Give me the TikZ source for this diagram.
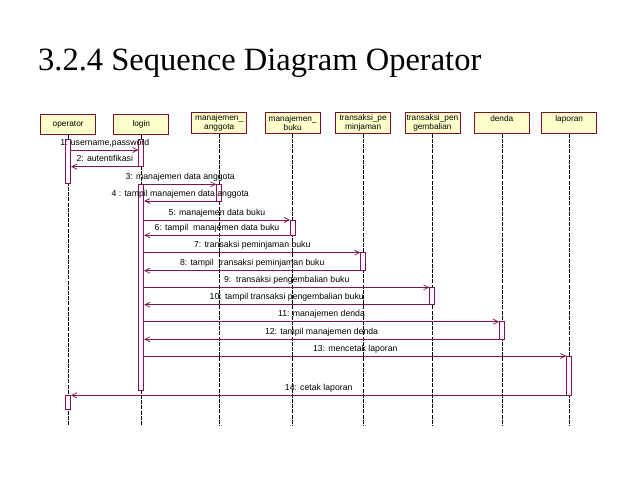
\documentclass[tikz,border=0pt]{standalone}
\usepackage{fontspec}
\setmainfont{Liberation Serif}
\setsansfont{Liberation Sans}
\usetikzlibrary{arrows.meta}
\definecolor{lnc}{RGB}{128,20,76}
\definecolor{boxc}{RGB}{128,16,40}
\definecolor{headfill}{RGB}{255,255,204}
\definecolor{actfill}{RGB}{255,246,255}
\begin{document}
\begin{tikzpicture}[x=1pt,y=-1pt,
 head/.style={draw=boxc, fill=headfill, line width=0.8pt, minimum width=55pt, minimum height=20pt, inner sep=0pt, align=center, font=\sffamily\fontsize{8.3}{8.6}\selectfont},
 act/.style={draw=lnc, fill=actfill, line width=0.75pt, minimum width=5pt, inner sep=0pt},
 life/.style={dash pattern=on 4pt off 1.2pt, line width=0.55pt, black},
 msg/.style={draw=lnc, line width=0.75pt, -{Straight Barb[length=5pt,width=5pt]}},
 lbl/.style={font=\sffamily\fontsize{8.7}{9}\selectfont, inner sep=0pt, text height=6.3pt, text depth=1.8pt, above=2.6pt, midway}]
\useasboundingbox (0,0) rectangle (638,479);
\node[anchor=base west, font=\fontsize{32.5}{36}\selectfont, inner sep=0pt] (title) at (38,70) {3.2.4 Sequence Diagram Operator};
% heads
\node[head] (hOp) at (68.2,124.5) {operator};
\node[head] (hLo) at (141.3,124.5) {login};
\node[head, minimum height=21pt] (hMa) at (219.2,122.8) {manajemen\_\\anggota};
\node[head, minimum height=21pt] (hMb) at (292.7,122.8) {manajemen\_\\buku};
\node[head, minimum height=21pt] (hTp) at (363.2,122.8) {transaksi\_pe\\minjaman};
\node[head, minimum height=21pt] (hTg) at (432.4,122.8) {transaksi\_pen\\gembalian};
\node[head, minimum height=21pt] (hDe) at (501.8,122.8) {denda\\\mbox{}};
\node[head, minimum height=21pt] (hLa) at (569.2,122.8) {laporan\\\mbox{}};
% lifelines
\coordinate (bot) at (0,425);
\foreach \h in {hOp,hLo,hMa,hMb,hTp,hTg,hDe,hLa}
  \draw[life] (\h.south) -- (\h.south |- bot);
% activations
\node[act, minimum height=44.3pt] (opA1) at (68.2,161.15) {};
\node[act, minimum height=27.7pt] (loA1) at (141.3,152.85) {};
\node[act, minimum height=206.4pt] (loA2) at (141.3,287.5) {};
\node[act, minimum height=16.7pt] (maA) at (219.2,192.65) {};
\node[act, minimum height=15.3pt] (mbA) at (292.7,227.65) {};
\node[act, minimum height=18pt] (tpA) at (363.2,261.7) {};
\node[act, minimum height=17.4pt] (tgA) at (432.2,296) {};
\node[act, minimum height=17.6pt] (deA) at (501.8,330.5) {};
\node[act, minimum height=39.3pt] (laA) at (569.2,375.65) {};
\node[act, minimum height=14pt] (opA2) at (68.2,402.3) {};
% message rows
\coordinate (m1) at (0,150);
\coordinate (m2) at (0,166.7);
\coordinate (m3) at (0,184.3);
\coordinate (m4) at (0,201);
\coordinate (m5) at (0,220);
\coordinate (m6) at (0,235.3);
\coordinate (m7) at (0,252.7);
\coordinate (m8) at (0,270.7);
\coordinate (m9) at (0,287.3);
\coordinate (m10) at (0,304.7);
\coordinate (m11) at (0,321.7);
\coordinate (m12) at (0,339.3);
\coordinate (m13) at (0,356);
\coordinate (m14) at (0,395.3);
% messages
\draw[msg] (opA1.east |- m1) -- (loA1.west |- m1) node[lbl] {1: username,password};
\draw[msg] (loA1.west |- m2) -- (opA1.east |- m2) node[lbl] {2: autentifikasi};
\draw[msg] (loA2.east |- m3) -- (maA.west |- m3) node[lbl] {3: manajemen data anggota};
\draw[msg] (maA.west |- m4) -- (loA2.east |- m4) node[lbl] {4 : tampil manajemen data anggota};
\draw[msg] (loA2.east |- m5) -- (mbA.west |- m5) node[lbl] {5: manajemen data buku};
\draw[msg] (mbA.west |- m6) -- (loA2.east |- m6) node[lbl] {6: tampil\ \ manajemen data buku};
\draw[msg] (loA2.east |- m7) -- (tpA.west |- m7) node[lbl] {7: transaksi peminjaman buku};
\draw[msg] (tpA.west |- m8) -- (loA2.east |- m8) node[lbl] {8: tampil\ \ transaksi peminjaman buku};
\draw[msg] (loA2.east |- m9) -- (tgA.west |- m9) node[lbl] {9:\ \ transaksi pengembalian buku};
\draw[msg] (tgA.west |- m10) -- (loA2.east |- m10) node[lbl] {10: tampil transaksi pengembalian buku};
\draw[msg] (loA2.east |- m11) -- (deA.west |- m11) node[lbl] {11: manajemen denda};
\draw[msg] (deA.west |- m12) -- (loA2.east |- m12) node[lbl] {12: tampil manajemen denda};
\draw[msg] (loA2.east |- m13) -- (laA.west |- m13) node[lbl] {13: mencetak laporan};
\draw[msg] (laA.west |- m14) -- (opA2.east |- m14) node[lbl] {14: cetak laporan};
\end{tikzpicture}
\end{document}
